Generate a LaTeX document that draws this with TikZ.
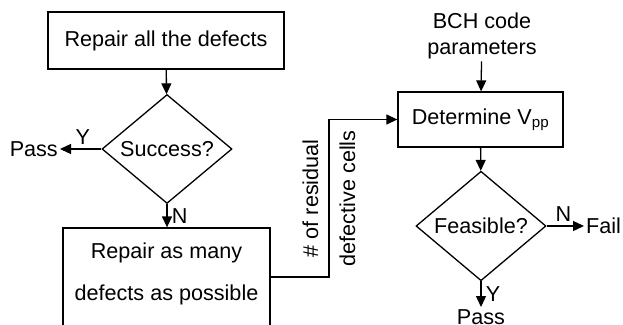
\documentclass[tikz,border=0pt]{standalone}
\usepackage{fontspec}
\setmainfont{Liberation Sans}
\usetikzlibrary{arrows.meta,shapes.geometric}
\tikzset{
  box/.style={draw,line width=1.3pt,minimum width=#1,align=center},
  choice/.style={draw,diamond,line width=1.3pt,minimum width=130pt,minimum height=98pt,inner sep=0pt},
  flow/.style={line width=1.3pt,-{Triangle[length=11pt,width=10pt]}},
  plain/.style={inner sep=2pt}
}

\begin{document}
\begin{tikzpicture}[x=1pt,y=-1pt,font=\fontsize{21.6}{26}\selectfont]
\useasboundingbox (0,0) rectangle (623,324);
\clip (0,0) rectangle (623,324);
% left part
\node[box=236pt,minimum height=57pt](repairall) at (166,40.5){Repair all the defects};
\node[choice](success) at (167,149){Success?};
\node[plain,anchor=east](passleft) at (60,149){Pass};
\node[box=207pt,minimum height=108pt](repairmany) at (166.5,282){};
\node[align=center](repairmanytext) at (166.5,274){Repair as many\\[16pt]defects as possible};
\draw[flow](repairall)--(success);
\draw[flow](success.west)--(passleft.east)node[pos=0.45,above=1pt]{Y};
\draw[flow](success.south)--(success.south|-repairmany.north)node[midway,right=1pt]{N};
% right part
\node[plain,align=center](bch) at (482,36){BCH code\\parameters};
\node[box=165pt,minimum height=55pt](vpp) at (480.5,119.5){Determine V\textsubscript{pp}};
\node[choice](feasible) at (481,226){Feasible?};
\node[plain,anchor=west](fail) at (584,226){Fail};
\node[plain,anchor=north](passright) at (481,307){Pass};
\coordinate(bend) at (329,277);
\draw[flow](repairmany.east|-bend)--(bend)--node[midway,rotate=90,align=center]{\# of residual\\[11pt]defective cells}(bend|-vpp.west)--(vpp.west);
\draw[flow](bch)--(vpp);
\draw[flow](vpp)--(feasible);
\draw[flow](feasible.east)--(fail.west)node[pos=0.45,above=1pt]{N};
\draw[flow](feasible.south)--(passright.north)node[midway,right=1pt]{Y};
\end{tikzpicture}
\end{document}
